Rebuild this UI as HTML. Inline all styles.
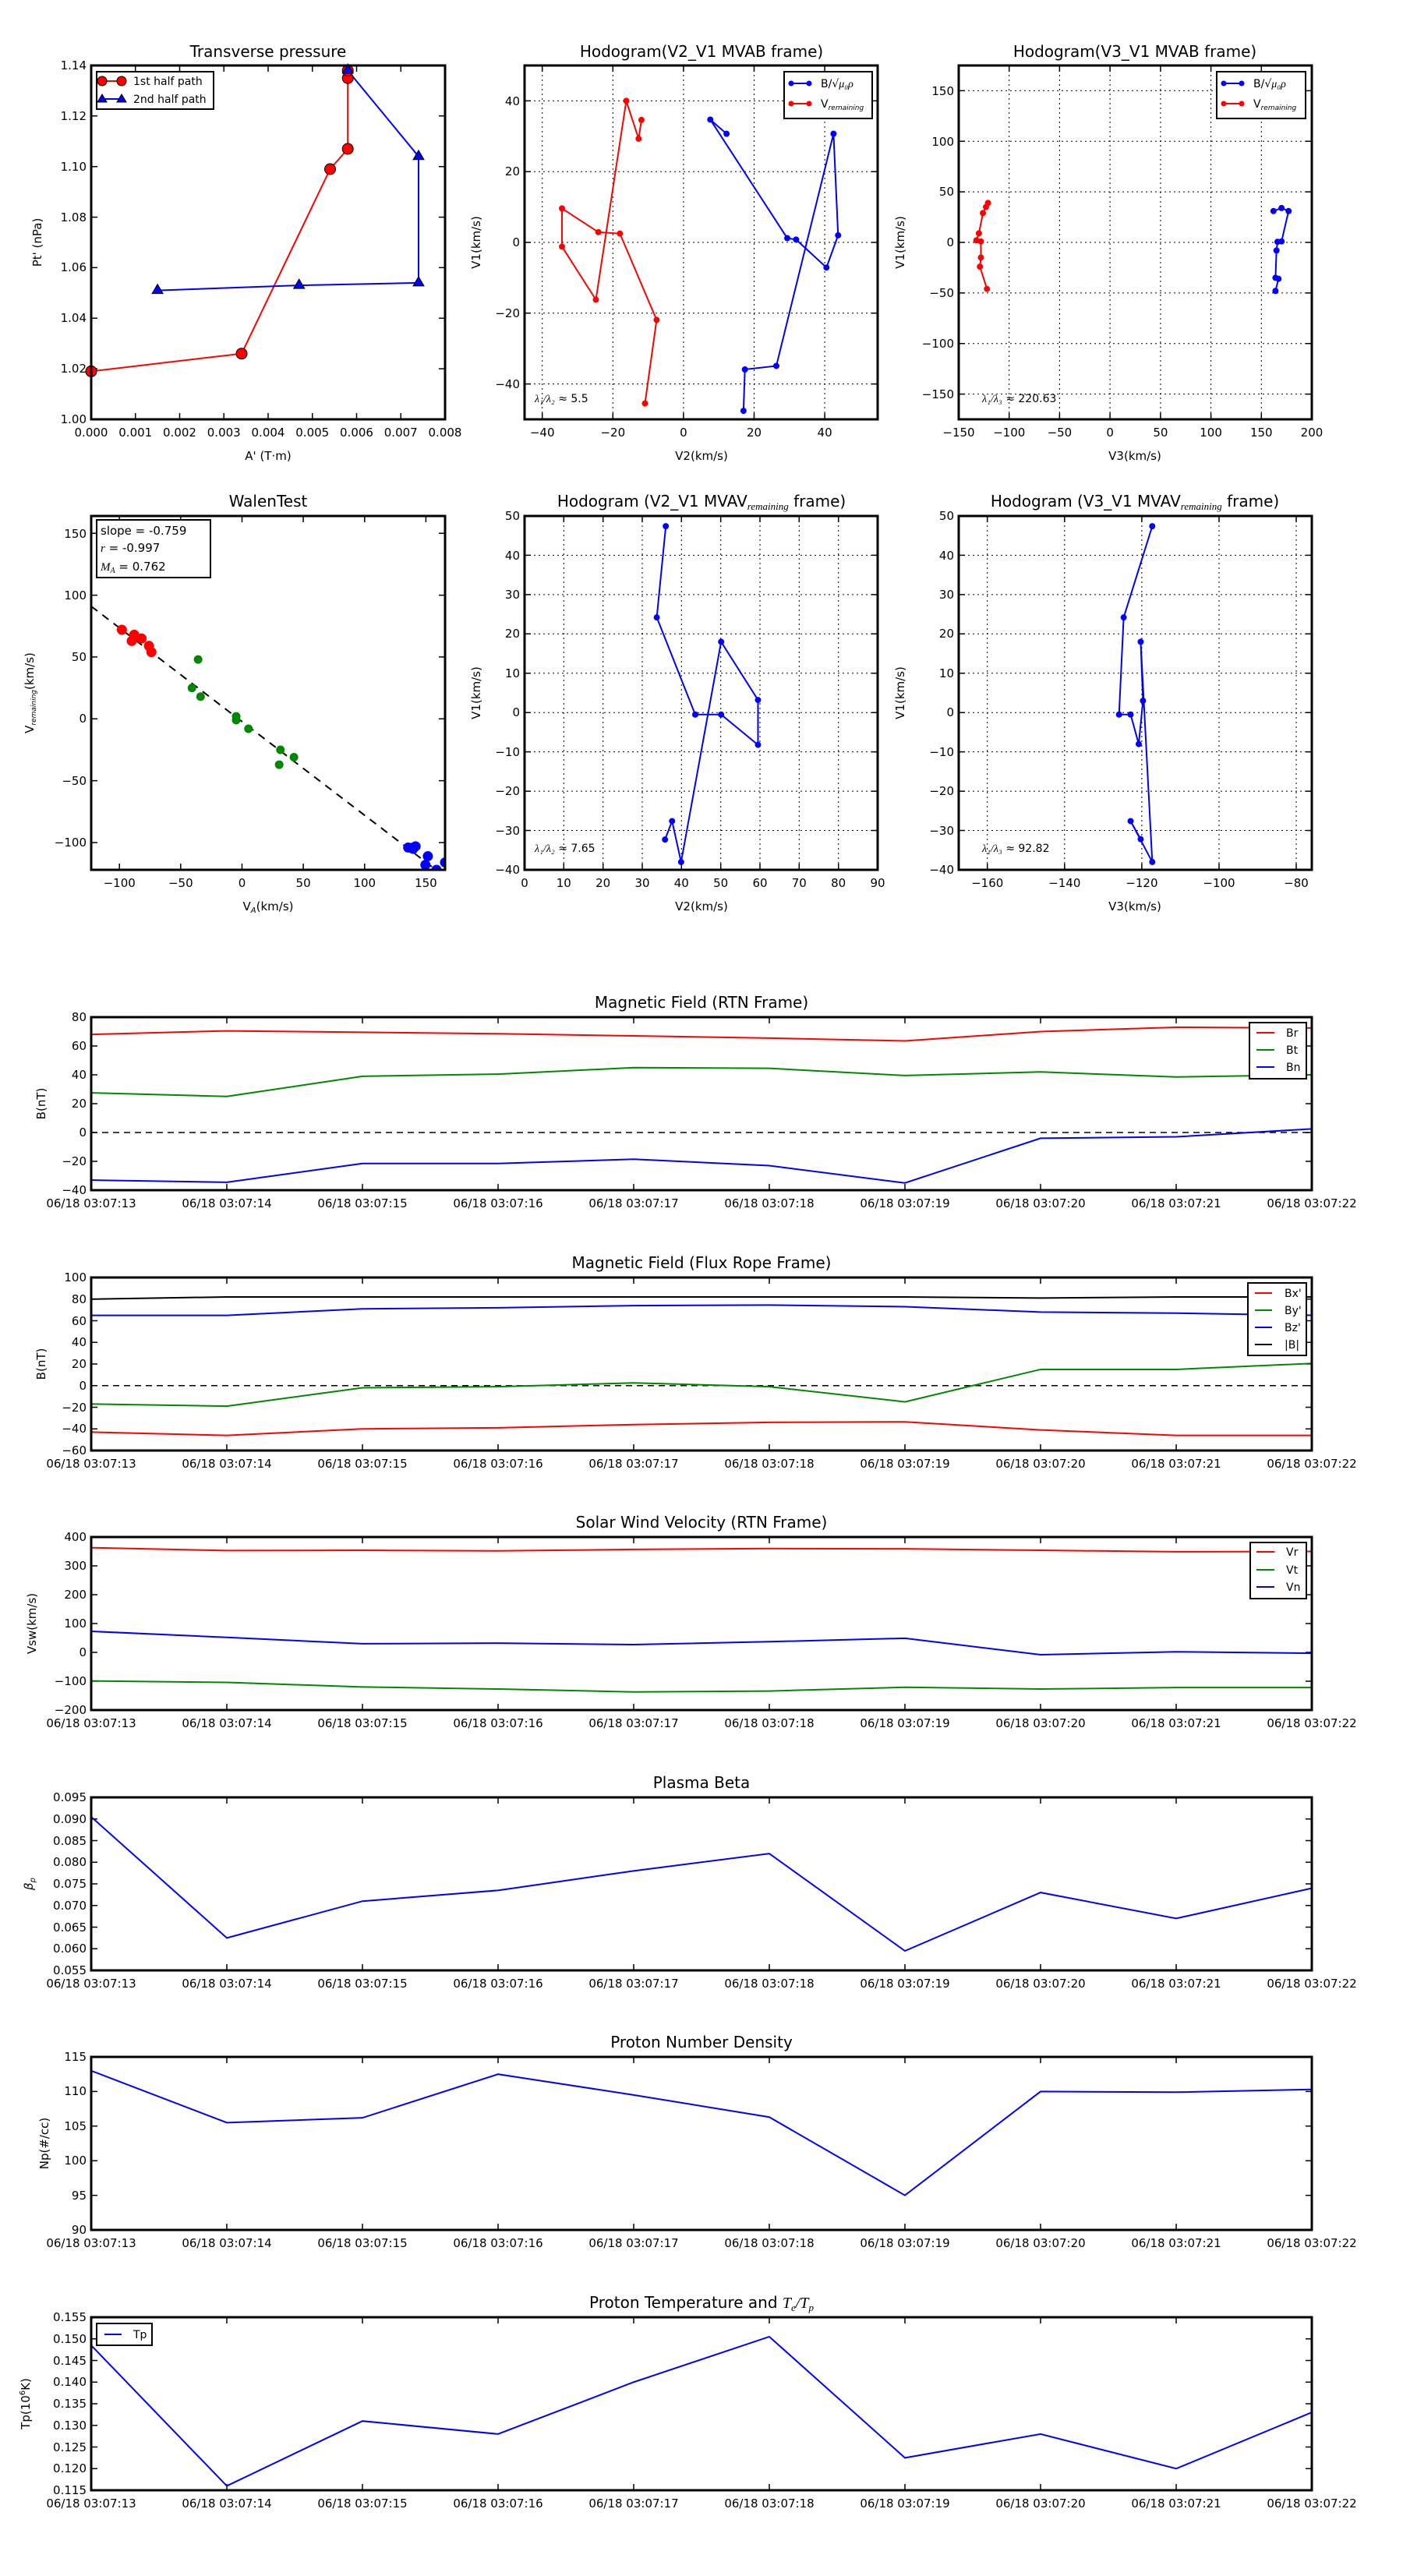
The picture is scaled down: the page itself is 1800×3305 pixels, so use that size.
<!DOCTYPE html>
<html><head><meta charset="utf-8"><style>
html,body{margin:0;padding:0;background:#fff}
svg text{font-family:"DejaVu Sans","Liberation Sans",sans-serif;fill:#000}
.t{font-size:20px;text-anchor:middle}
.k{font-size:15px}
.km{font-size:15px;text-anchor:middle}
.kr{font-size:15px;text-anchor:end}
.l{font-size:14px}
.ax{fill:none;stroke:#000;stroke-width:3}
.tk{fill:none;stroke:#000;stroke-width:1.5}
.gr{fill:none;stroke:#000;stroke-width:1;stroke-dasharray:2 4}
.ns{vector-effect:non-scaling-stroke;fill:none}
</style></head><body>
<svg width="1800" height="3300" viewBox="0 0 1800 3300" xmlns="http://www.w3.org/2000/svg">
<rect width="1800" height="3300" fill="#fff"/>

<!-- ============ Plot 1: Transverse pressure ============ -->
<text class="t" x="344" y="73">Transverse pressure</text>
<path class="tk" d="M173.75,538v-8M230.5,538v-8M287.25,538v-8M344,538v-8M400.75,538v-8M457.5,538v-8M514.25,538v-8M173.75,84v8M230.5,84v8M287.25,84v8M344,84v8M400.75,84v8M457.5,84v8M514.25,84v8M117,473.1h8M117,408.3h8M117,343.4h8M117,278.6h8M117,213.7h8M117,148.8h8M571,473.1h-8M571,408.3h-8M571,343.4h-8M571,278.6h-8M571,213.7h-8M571,148.8h-8"/>
<polyline points="117,476.4 310,453.7 423.5,217 446.2,191 446.2,100.2 446.2,90.5" fill="none" stroke="#f00" stroke-width="2"/>
<polyline points="446.2,90.5 537,200.7 537,362.9 383.7,366.1 202.1,372.6" fill="none" stroke="#00f" stroke-width="2"/>
<g fill="#f00" stroke="#000" stroke-width="1">
<circle cx="117" cy="476.4" r="7"/><circle cx="310" cy="453.7" r="7"/><circle cx="423.5" cy="217" r="7"/><circle cx="446.2" cy="191" r="7"/><circle cx="446.2" cy="100.2" r="7"/><circle cx="446.2" cy="90.5" r="7"/></g>
<g fill="#00f" stroke="#000" stroke-width="1">
<path d="M446.2,82l7,12h-14z"/><path d="M537,192.7l7,12h-14z"/><path d="M537,354.9l7,12h-14z"/><path d="M383.7,358.1l7,12h-14z"/><path d="M202.1,364.6l7,12h-14z"/></g>
<rect class="ax" x="117" y="84" width="454" height="454"/>
<rect x="124" y="92" width="150" height="48" fill="#fff" stroke="#000" stroke-width="2"/>
<line x1="129" y1="104" x2="156" y2="104" stroke="#f00" stroke-width="2"/>
<circle cx="131" cy="104" r="6" fill="#f00" stroke="#000"/><circle cx="156" cy="104" r="6" fill="#f00" stroke="#000"/>
<line x1="129" y1="127" x2="156" y2="127" stroke="#00f" stroke-width="2"/>
<path d="M131,121l6,10h-12zM156,121l6,10h-12z" fill="#00f" stroke="#000"/>
<text class="l" x="171" y="109">1st half path</text>
<text class="l" x="171" y="132">2nd half path</text>
<g class="km"><text x="117" y="560">0.000</text><text x="173.75" y="560">0.001</text><text x="230.5" y="560">0.002</text><text x="287.25" y="560">0.003</text><text x="344" y="560">0.004</text><text x="400.75" y="560">0.005</text><text x="457.5" y="560">0.006</text><text x="514.25" y="560">0.007</text><text x="571" y="560">0.008</text></g>
<g class="kr"><text x="111" y="543">1.00</text><text x="111" y="478">1.02</text><text x="111" y="413">1.04</text><text x="111" y="348">1.06</text><text x="111" y="284">1.08</text><text x="111" y="219">1.10</text><text x="111" y="154">1.12</text><text x="111" y="89">1.14</text></g>
<text class="km" x="344" y="590">A' (T·m)</text>
<text class="km" transform="translate(53,311) rotate(-90)">Pt' (nPa)</text>

<!-- ============ Plot 2: Hodogram V2_V1 MVAB ============ -->
<text class="t" x="900" y="73">Hodogram(V2_V1 MVAB frame)</text>
<path class="gr" d="M695.7,84v454M786.3,84v454M876.9,84v454M967.5,84v454M1058.1,84v454M673,129.4h453M673,220.2h453M673,311h453M673,401.8h453M673,492.6h453"/>
<path class="tk" d="M695.7,538v-8M786.3,538v-8M876.9,538v-8M967.5,538v-8M1058.1,538v-8M695.7,84v8M786.3,84v8M876.9,84v8M967.5,84v8M1058.1,84v8M673,129.4h8M673,220.2h8M673,311h8M673,401.8h8M673,492.6h8M1126,129.4h-8M1126,220.2h-8M1126,311h-8M1126,401.8h-8M1126,492.6h-8"/>
<svg x="673" y="84" width="453" height="454" viewBox="-45 -50 100 100" preserveAspectRatio="none">
<polyline class="ns" stroke="#00f" stroke-width="2" points="17.0,47.6 17.4,35.9 26.3,34.9 42.5,-30.7 43.8,-2.0 40.5,7.1 31.9,-0.8 29.4,-1.2 7.6,-34.7 12.2,-30.7"/>
<path class="ns" stroke="#00f" stroke-width="8" stroke-linecap="round" d="M17.0,47.6h0M17.4,35.9h0M26.3,34.9h0M42.5,-30.7h0M43.8,-2.0h0M40.5,7.1h0M31.9,-0.8h0M29.4,-1.2h0M7.6,-34.7h0M12.2,-30.7h0"/>
<polyline class="ns" stroke="#f00" stroke-width="2" points="-10.9,45.5 -7.6,21.9 -18.0,-2.5 -24.1,-2.9 -34.4,-9.6 -34.4,1.2 -24.8,16.2 -16.2,-40 -12.7,-29.3 -11.9,-34.6"/>
<path class="ns" stroke="#f00" stroke-width="8" stroke-linecap="round" d="M-10.9,45.5h0M-7.6,21.9h0M-18.0,-2.5h0M-24.1,-2.9h0M-34.4,-9.6h0M-34.4,1.2h0M-24.8,16.2h0M-16.2,-40h0M-12.7,-29.3h0M-11.9,-34.6h0"/>
</svg>
<rect class="ax" x="673" y="84" width="453" height="454"/>
<rect x="1006" y="92" width="113" height="60" fill="#fff" stroke="#000" stroke-width="2"/>
<line x1="1014" y1="107" x2="1039" y2="107" stroke="#00f" stroke-width="2"/><circle cx="1015" cy="107" r="3.5" fill="#00f"/><circle cx="1038" cy="107" r="3.5" fill="#00f"/>
<line x1="1014" y1="133" x2="1039" y2="133" stroke="#f00" stroke-width="2"/><circle cx="1015" cy="133" r="3.5" fill="#f00"/><circle cx="1038" cy="133" r="3.5" fill="#f00"/>
<text class="l" x="1053" y="112">B/√<tspan font-style="italic" font-family="Liberation Serif,serif">μ₀ρ</tspan></text>
<text class="l" x="1053" y="138">V<tspan font-size="9" font-style="italic" dy="3">remaining</tspan></text>
<g class="km"><text x="695.7" y="560">−40</text><text x="786.3" y="560">−20</text><text x="876.9" y="560">0</text><text x="967.5" y="560">20</text><text x="1058.1" y="560">40</text></g>
<g class="kr"><text x="667" y="135">40</text><text x="667" y="225">20</text><text x="667" y="316">0</text><text x="667" y="407">−20</text><text x="667" y="498">−40</text></g>
<text class="l" x="686" y="516"><tspan font-style="italic" font-family="Liberation Serif,serif">λ₁/λ₂</tspan> ≈ 5.5</text>
<text class="km" x="900" y="590">V2(km/s)</text>
<text class="km" transform="translate(616,311) rotate(-90)">V1(km/s)</text>

<!-- ============ Plot 3: Hodogram V3_V1 MVAB ============ -->
<text class="t" x="1456" y="73">Hodogram(V3_V1 MVAB frame)</text>
<path class="gr" d="M1294.7,84v454M1359.4,84v454M1424.1,84v454M1488.9,84v454M1553.6,84v454M1618.3,84v454M1230,116.4h453M1230,181.3h453M1230,246.1h453M1230,311h453M1230,375.9h453M1230,440.7h453M1230,505.6h453"/>
<path class="tk" d="M1294.7,538v-8M1359.4,538v-8M1424.1,538v-8M1488.9,538v-8M1553.6,538v-8M1618.3,538v-8M1294.7,84v8M1359.4,84v8M1424.1,84v8M1488.9,84v8M1553.6,84v8M1618.3,84v8M1230,116.4h8M1230,181.3h8M1230,246.1h8M1230,311h8M1230,375.9h8M1230,440.7h8M1230,505.6h8M1683,116.4h-8M1683,181.3h-8M1683,246.1h-8M1683,311h-8M1683,375.9h-8M1683,440.7h-8M1683,505.6h-8"/>
<svg x="1230" y="84" width="453" height="454" viewBox="-150 -175 350 350" preserveAspectRatio="none">
<polyline class="ns" stroke="#f00" stroke-width="2" points="-121,-39 -123,-35 -126,-29 -130,-9 -132.5,-2 -128,-1 -128,15 -129,24 -122,46"/>
<path class="ns" stroke="#f00" stroke-width="8" stroke-linecap="round" d="M-121,-39h0M-123,-35h0M-126,-29h0M-130,-9h0M-132.5,-2h0M-128,-1h0M-128,15h0M-129,24h0M-122,46h0"/>
<polyline class="ns" stroke="#00f" stroke-width="2" points="162,-31 170,-34 177,-31 170,-1 166,-0.6 165,8 164,35 167,36 164,48"/>
<path class="ns" stroke="#00f" stroke-width="8" stroke-linecap="round" d="M162,-31h0M170,-34h0M177,-31h0M170,-1h0M166,-0.6h0M165,8h0M164,35h0M167,36h0M164,48h0"/>
</svg>
<rect class="ax" x="1230" y="84" width="453" height="454"/>
<rect x="1561" y="92" width="114" height="60" fill="#fff" stroke="#000" stroke-width="2"/>
<line x1="1569" y1="107" x2="1594" y2="107" stroke="#00f" stroke-width="2"/><circle cx="1570" cy="107" r="3.5" fill="#00f"/><circle cx="1593" cy="107" r="3.5" fill="#00f"/>
<line x1="1569" y1="133" x2="1594" y2="133" stroke="#f00" stroke-width="2"/><circle cx="1570" cy="133" r="3.5" fill="#f00"/><circle cx="1593" cy="133" r="3.5" fill="#f00"/>
<text class="l" x="1608" y="112">B/√<tspan font-style="italic" font-family="Liberation Serif,serif">μ₀ρ</tspan></text>
<text class="l" x="1608" y="138">V<tspan font-size="9" font-style="italic" dy="3">remaining</tspan></text>
<g class="km"><text x="1230" y="560">−150</text><text x="1294.7" y="560">−100</text><text x="1359.4" y="560">−50</text><text x="1424.1" y="560">0</text><text x="1488.9" y="560">50</text><text x="1553.6" y="560">100</text><text x="1618.3" y="560">150</text><text x="1683" y="560">200</text></g>
<g class="kr"><text x="1224" y="122">150</text><text x="1224" y="187">100</text><text x="1224" y="251">50</text><text x="1224" y="316">0</text><text x="1224" y="381">−50</text><text x="1224" y="446">−100</text><text x="1224" y="511">−150</text></g>
<text class="l" x="1260" y="516"><tspan font-style="italic" font-family="Liberation Serif,serif">λ₁/λ₃</tspan> ≈ 220.63</text>
<text class="km" x="1456" y="590">V3(km/s)</text>
<text class="km" transform="translate(1160,311) rotate(-90)">V1(km/s)</text>

<!-- ============ Plot 4: WalenTest ============ -->
<text class="t" x="344" y="650">WalenTest</text>
<path class="tk" d="M153.2,1116v-8M231.8,1116v-8M310.5,1116v-8M389.1,1116v-8M467.8,1116v-8M546.4,1116v-8M153.2,662v8M231.8,662v8M310.5,662v8M389.1,662v8M467.8,662v8M546.4,662v8M117,684.2h8M117,763.6h8M117,842.9h8M117,922.3h8M117,1001.6h8M117,1081h8M571,684.2h-8M571,763.6h-8M571,842.9h-8M571,922.3h-8M571,1001.6h-8M571,1081h-8"/>
<svg x="117" y="662" width="454" height="454" viewBox="-123 -164 288 286" preserveAspectRatio="none">
<line class="ns" x1="-123" y1="-91" x2="165" y2="127.6" stroke="#000" stroke-width="2" stroke-dasharray="10 8"/>
<path class="ns" stroke="#f00" stroke-width="13" stroke-linecap="round" d="M-98,-72h0M-88,-68h0M-90,-63h0M-82,-65h0M-76,-59h0M-74,-54h0"/>
<path class="ns" stroke="#080" stroke-width="11" stroke-linecap="round" d="M-36,-48h0M-41,-25h0M-34,-18h0M-5,-2h0M-5,1h0M5,8h0M31,25h0M30,37h0M42,31h0"/>
<path class="ns" stroke="#00f" stroke-width="13" stroke-linecap="round" d="M135,104h0M139,104h0M141,103h0M139,105h0M151,111h0M149,118h0M158,122h0M165,116h0"/>
</svg>
<rect class="ax" x="117" y="662" width="454" height="454"/>
<rect x="124" y="667" width="146" height="74" fill="#fff" stroke="#000" stroke-width="2"/>
<text class="k" x="129" y="686">slope = -0.759</text>
<text class="k" x="129" y="708"><tspan font-style="italic" font-family="Liberation Serif,serif">r</tspan> = -0.997</text>
<text class="k" x="129" y="732"><tspan font-style="italic" font-family="Liberation Serif,serif">M<tspan font-size="10" dy="3">A</tspan></tspan><tspan dy="-3"> = 0.762</tspan></text>
<g class="km"><text x="153.2" y="1138">−100</text><text x="231.8" y="1138">−50</text><text x="310.5" y="1138">0</text><text x="389.1" y="1138">50</text><text x="467.8" y="1138">100</text><text x="546.4" y="1138">150</text></g>
<g class="kr"><text x="111" y="690">150</text><text x="111" y="769">100</text><text x="111" y="848">50</text><text x="111" y="927">0</text><text x="111" y="1007">−50</text><text x="111" y="1086">−100</text></g>
<text class="km" x="344" y="1168">V<tspan font-size="10" dy="3" font-style="italic">A</tspan><tspan dy="-3">(km/s)</tspan></text>
<text class="km" transform="translate(43,889) rotate(-90)">V<tspan font-size="9" dy="3" font-style="italic">remaining</tspan><tspan dy="-3">(km/s)</tspan></text>

<!-- ============ Plot 5: V2_V1 MVAV ============ -->
<text class="t" x="900" y="650">Hodogram (V2_V1 MVAV<tspan font-size="13" dy="4" font-style="italic" font-family="Liberation Serif,serif">remaining</tspan><tspan dy="-4"> frame)</tspan></text>
<path class="gr" d="M723.3,662v454M773.7,662v454M824,662v454M874.3,662v454M924.7,662v454M975,662v454M1025.3,662v454M1075.7,662v454M673,712.4h453M673,762.9h453M673,813.3h453M673,863.8h453M673,914.2h453M673,964.6h453M673,1015.1h453M673,1065.5h453"/>
<path class="tk" d="M723.3,1116v-8M773.7,1116v-8M824,1116v-8M874.3,1116v-8M924.7,1116v-8M975,1116v-8M1025.3,1116v-8M1075.7,1116v-8M723.3,662v8M773.7,662v8M824,662v8M874.3,662v8M924.7,662v8M975,662v8M1025.3,662v8M1075.7,662v8M673,712.4h8M673,762.9h8M673,813.3h8M673,863.8h8M673,914.2h8M673,964.6h8M673,1015.1h8M673,1065.5h8M1126,712.4h-8M1126,762.9h-8M1126,813.3h-8M1126,863.8h-8M1126,914.2h-8M1126,964.6h-8M1126,1015.1h-8M1126,1065.5h-8"/>
<svg x="673" y="662" width="453" height="454" viewBox="0 -50 90 90" preserveAspectRatio="none">
<polyline class="ns" stroke="#00f" stroke-width="2" points="36,-47.4 33.7,-24.2 43.5,0.5 50.1,0.5 59.5,8.2 59.5,-3.2 50.1,-18 39.9,38 37.6,27.6 35.8,32.3"/>
<path class="ns" stroke="#00f" stroke-width="8" stroke-linecap="round" d="M36,-47.4h0M33.7,-24.2h0M43.5,0.5h0M50.1,0.5h0M59.5,8.2h0M59.5,-3.2h0M50.1,-18h0M39.9,38h0M37.6,27.6h0M35.8,32.3h0"/>
</svg>
<rect class="ax" x="673" y="662" width="453" height="454"/>
<g class="km"><text x="673" y="1138">0</text><text x="723.3" y="1138">10</text><text x="773.7" y="1138">20</text><text x="824" y="1138">30</text><text x="874.3" y="1138">40</text><text x="924.7" y="1138">50</text><text x="975" y="1138">60</text><text x="1025.3" y="1138">70</text><text x="1075.7" y="1138">80</text><text x="1126" y="1138">90</text></g>
<g class="kr"><text x="667" y="667">50</text><text x="667" y="718">40</text><text x="667" y="768">30</text><text x="667" y="818">20</text><text x="667" y="869">10</text><text x="667" y="919">0</text><text x="667" y="970">−10</text><text x="667" y="1020">−20</text><text x="667" y="1071">−30</text><text x="667" y="1121">−40</text></g>
<text class="l" x="686" y="1093"><tspan font-style="italic" font-family="Liberation Serif,serif">λ₁/λ₂</tspan> ≈ 7.65</text>
<text class="km" x="900" y="1168">V2(km/s)</text>
<text class="km" transform="translate(616,889) rotate(-90)">V1(km/s)</text>

<!-- ============ Plot 6: V3_V1 MVAV ============ -->
<text class="t" x="1456" y="650">Hodogram (V3_V1 MVAV<tspan font-size="13" dy="4" font-style="italic" font-family="Liberation Serif,serif">remaining</tspan><tspan dy="-4"> frame)</tspan></text>
<path class="gr" d="M1266.7,662v454M1365.8,662v454M1464.9,662v454M1564,662v454M1663,662v454M1230,712.4h453M1230,762.9h453M1230,813.3h453M1230,863.8h453M1230,914.2h453M1230,964.6h453M1230,1015.1h453M1230,1065.5h453"/>
<path class="tk" d="M1266.7,1116v-8M1365.8,1116v-8M1464.9,1116v-8M1564,1116v-8M1663,1116v-8M1266.7,662v8M1365.8,662v8M1464.9,662v8M1564,662v8M1663,662v8M1230,712.4h8M1230,762.9h8M1230,813.3h8M1230,863.8h8M1230,914.2h8M1230,964.6h8M1230,1015.1h8M1230,1065.5h8M1683,712.4h-8M1683,762.9h-8M1683,813.3h-8M1683,863.8h-8M1683,914.2h-8M1683,964.6h-8M1683,1015.1h-8M1683,1065.5h-8"/>
<svg x="1230" y="662" width="453" height="454" viewBox="-167.4 -50 91.4 90" preserveAspectRatio="none">
<polyline class="ns" stroke="#00f" stroke-width="2" points="-117.3,-47.4 -124.7,-24.2 -125.9,0.5 -122.9,0.5 -120.8,8 -119.7,-3 -120.3,-18 -117.3,38 -122.9,27.6 -120.3,32.2"/>
<path class="ns" stroke="#00f" stroke-width="8" stroke-linecap="round" d="M-117.3,-47.4h0M-124.7,-24.2h0M-125.9,0.5h0M-122.9,0.5h0M-120.8,8h0M-119.7,-3h0M-120.3,-18h0M-117.3,38h0M-122.9,27.6h0M-120.3,32.2h0"/>
</svg>
<rect class="ax" x="1230" y="662" width="453" height="454"/>
<g class="km"><text x="1266.7" y="1138">−160</text><text x="1365.8" y="1138">−140</text><text x="1464.9" y="1138">−120</text><text x="1564" y="1138">−100</text><text x="1663" y="1138">−80</text></g>
<g class="kr"><text x="1224" y="667">50</text><text x="1224" y="718">40</text><text x="1224" y="768">30</text><text x="1224" y="818">20</text><text x="1224" y="869">10</text><text x="1224" y="919">0</text><text x="1224" y="970">−10</text><text x="1224" y="1020">−20</text><text x="1224" y="1071">−30</text><text x="1224" y="1121">−40</text></g>
<text class="l" x="1260" y="1093"><tspan font-style="italic" font-family="Liberation Serif,serif">λ₁/λ₃</tspan> ≈ 92.82</text>
<text class="km" x="1456" y="1168">V3(km/s)</text>
<text class="km" transform="translate(1160,889) rotate(-90)">V1(km/s)</text>

<!-- ============ Time series panels ============ -->
<!-- P1 -->
<text class="t" x="900" y="1293">Magnetic Field (RTN Frame)</text>
<path class="tk" d="M291,1527v-8M465,1527v-8M639,1527v-8M813,1527v-8M987,1527v-8M1161,1527v-8M1335,1527v-8M1509,1527v-8M291,1305v8M465,1305v8M639,1305v8M813,1305v8M987,1305v8M1161,1305v8M1335,1305v8M1509,1305v8M117,1342h8M117,1379h8M117,1416h8M117,1453h8M117,1490h8M1683,1342h-8M1683,1379h-8M1683,1416h-8M1683,1453h-8M1683,1490h-8"/>
<line x1="117" y1="1453" x2="1683" y2="1453" stroke="#000" stroke-width="1.5" stroke-dasharray="8 6"/>
<svg x="117" y="1305" width="1566" height="222" viewBox="0 -80 9 120" preserveAspectRatio="none">
<polyline class="ns" stroke="#f00" stroke-width="2" points="0,-68 1,-70.5 2,-69.5 3,-68.5 4,-67 5,-65.5 6,-63.5 7,-70 8,-73 9,-72.5"/>
<polyline class="ns" stroke="#080" stroke-width="2" points="0,-27.5 1,-25 2,-39 3,-40.5 4,-45 5,-44.5 6,-39.5 7,-42 8,-38.5 9,-40"/>
<polyline class="ns" stroke="#00f" stroke-width="2" points="0,33 1,34.5 2,21.5 3,21.5 4,18.5 5,23 6,35 7,4 8,3 9,-2.5"/>
</svg>
<rect class="ax" x="117" y="1305" width="1566" height="222"/>
<rect x="1603" y="1312" width="73" height="72" fill="#fff" stroke="#000" stroke-width="2"/>
<line x1="1612" y1="1325" x2="1635" y2="1325" stroke="#f00" stroke-width="2"/><line x1="1612" y1="1347" x2="1635" y2="1347" stroke="#080" stroke-width="2"/><line x1="1612" y1="1369" x2="1635" y2="1369" stroke="#00f" stroke-width="2"/>
<text class="l" x="1650" y="1330">Br</text><text class="l" x="1650" y="1352">Bt</text><text class="l" x="1650" y="1374">Bn</text>
<g class="kr"><text x="111" y="1310">80</text><text x="111" y="1347">60</text><text x="111" y="1384">40</text><text x="111" y="1421">20</text><text x="111" y="1458">0</text><text x="111" y="1495">−20</text><text x="111" y="1532">−40</text></g>
<g class="km"><text x="117" y="1549">06/18 03:07:13</text><text x="291" y="1549">06/18 03:07:14</text><text x="465" y="1549">06/18 03:07:15</text><text x="639" y="1549">06/18 03:07:16</text><text x="813" y="1549">06/18 03:07:17</text><text x="987" y="1549">06/18 03:07:18</text><text x="1161" y="1549">06/18 03:07:19</text><text x="1335" y="1549">06/18 03:07:20</text><text x="1509" y="1549">06/18 03:07:21</text><text x="1683" y="1549">06/18 03:07:22</text></g>
<text class="km" transform="translate(58,1416) rotate(-90)">B(nT)</text>

<!-- P2 -->
<text class="t" x="900" y="1627">Magnetic Field (Flux Rope Frame)</text>
<path class="tk" d="M291,1861v-8M465,1861v-8M639,1861v-8M813,1861v-8M987,1861v-8M1161,1861v-8M1335,1861v-8M1509,1861v-8M291,1639v8M465,1639v8M639,1639v8M813,1639v8M987,1639v8M1161,1639v8M1335,1639v8M1509,1639v8M117,1666.75h8M117,1694.5h8M117,1722.25h8M117,1750h8M117,1777.75h8M117,1805.5h8M117,1833.25h8M1683,1666.75h-8M1683,1694.5h-8M1683,1722.25h-8M1683,1750h-8M1683,1777.75h-8M1683,1805.5h-8M1683,1833.25h-8"/>
<line x1="117" y1="1777.75" x2="1683" y2="1777.75" stroke="#000" stroke-width="1.5" stroke-dasharray="8 6"/>
<svg x="117" y="1639" width="1566" height="222" viewBox="0 -100 9 160" preserveAspectRatio="none">
<polyline class="ns" stroke="#000" stroke-width="2" points="0,-80 1,-82 2,-82 3,-82 4,-82 5,-82 6,-82 7,-81 8,-82 9,-82"/>
<polyline class="ns" stroke="#00f" stroke-width="2" points="0,-65 1,-65 2,-71 3,-72 4,-74 5,-74.5 6,-73 7,-68 8,-67 9,-65"/>
<polyline class="ns" stroke="#080" stroke-width="2" points="0,17 1,19 2,2 3,1 4,-2.5 5,1 6,15 7,-15 8,-15 9,-20.5"/>
<polyline class="ns" stroke="#f00" stroke-width="2" points="0,43 1,46 2,40 3,39 4,36 5,34 6,33.5 7,41 8,46 9,46"/>
</svg>
<rect class="ax" x="117" y="1639" width="1566" height="222"/>
<rect x="1601" y="1646" width="75" height="93" fill="#fff" stroke="#000" stroke-width="2"/>
<line x1="1610" y1="1659" x2="1632" y2="1659" stroke="#f00" stroke-width="2"/><line x1="1610" y1="1681" x2="1632" y2="1681" stroke="#080" stroke-width="2"/><line x1="1610" y1="1703" x2="1632" y2="1703" stroke="#00f" stroke-width="2"/><line x1="1610" y1="1725" x2="1632" y2="1725" stroke="#000" stroke-width="2"/>
<text class="l" x="1648" y="1664">Bx'</text><text class="l" x="1648" y="1686">By'</text><text class="l" x="1648" y="1708">Bz'</text><text class="l" x="1648" y="1730">|B|</text>
<g class="kr"><text x="111" y="1644">100</text><text x="111" y="1672">80</text><text x="111" y="1700">60</text><text x="111" y="1727">40</text><text x="111" y="1755">20</text><text x="111" y="1783">0</text><text x="111" y="1811">−20</text><text x="111" y="1838">−40</text><text x="111" y="1866">−60</text></g>
<g class="km"><text x="117" y="1883">06/18 03:07:13</text><text x="291" y="1883">06/18 03:07:14</text><text x="465" y="1883">06/18 03:07:15</text><text x="639" y="1883">06/18 03:07:16</text><text x="813" y="1883">06/18 03:07:17</text><text x="987" y="1883">06/18 03:07:18</text><text x="1161" y="1883">06/18 03:07:19</text><text x="1335" y="1883">06/18 03:07:20</text><text x="1509" y="1883">06/18 03:07:21</text><text x="1683" y="1883">06/18 03:07:22</text></g>
<text class="km" transform="translate(58,1750) rotate(-90)">B(nT)</text>

<!-- P3 -->
<text class="t" x="900" y="1960">Solar Wind Velocity (RTN Frame)</text>
<path class="tk" d="M291,2194v-8M465,2194v-8M639,2194v-8M813,2194v-8M987,2194v-8M1161,2194v-8M1335,2194v-8M1509,2194v-8M291,1972v8M465,1972v8M639,1972v8M813,1972v8M987,1972v8M1161,1972v8M1335,1972v8M1509,1972v8M117,2009h8M117,2046h8M117,2083h8M117,2120h8M117,2157h8M1683,2009h-8M1683,2046h-8M1683,2083h-8M1683,2120h-8M1683,2157h-8"/>
<svg x="117" y="1972" width="1566" height="222" viewBox="0 -400 9 600" preserveAspectRatio="none">
<polyline class="ns" stroke="#f00" stroke-width="2" points="0,-363 1,-353 2,-354 3,-352 4,-357 5,-360 6,-359 7,-354 8,-349 9,-350"/>
<polyline class="ns" stroke="#00f" stroke-width="2" points="0,-73 1,-52 2,-30 3,-32 4,-27 5,-37 6,-49 7,8 8,-2 9,3"/>
<polyline class="ns" stroke="#080" stroke-width="2" points="0,99 1,104 2,120 3,127 4,137 5,134 6,121 7,127 8,122 9,122"/>
</svg>
<rect class="ax" x="117" y="1972" width="1566" height="222"/>
<rect x="1604" y="1979" width="72" height="72" fill="#fff" stroke="#000" stroke-width="2"/>
<line x1="1612" y1="1991" x2="1635" y2="1991" stroke="#f00" stroke-width="2"/><line x1="1612" y1="2014" x2="1635" y2="2014" stroke="#080" stroke-width="2"/><line x1="1612" y1="2036" x2="1635" y2="2036" stroke="#00f" stroke-width="2"/>
<text class="l" x="1650" y="1996">Vr</text><text class="l" x="1650" y="2019">Vt</text><text class="l" x="1650" y="2041">Vn</text>
<g class="kr"><text x="111" y="1977">400</text><text x="111" y="2014">300</text><text x="111" y="2051">200</text><text x="111" y="2088">100</text><text x="111" y="2125">0</text><text x="111" y="2162">−100</text><text x="111" y="2199">−200</text></g>
<g class="km"><text x="117" y="2216">06/18 03:07:13</text><text x="291" y="2216">06/18 03:07:14</text><text x="465" y="2216">06/18 03:07:15</text><text x="639" y="2216">06/18 03:07:16</text><text x="813" y="2216">06/18 03:07:17</text><text x="987" y="2216">06/18 03:07:18</text><text x="1161" y="2216">06/18 03:07:19</text><text x="1335" y="2216">06/18 03:07:20</text><text x="1509" y="2216">06/18 03:07:21</text><text x="1683" y="2216">06/18 03:07:22</text></g>
<text class="km" transform="translate(46,2083) rotate(-90)">Vsw(km/s)</text>

<!-- P4 -->
<text class="t" x="900" y="2294">Plasma Beta</text>
<path class="tk" d="M291,2528v-8M465,2528v-8M639,2528v-8M813,2528v-8M987,2528v-8M1161,2528v-8M1335,2528v-8M1509,2528v-8M291,2306v8M465,2306v8M639,2306v8M813,2306v8M987,2306v8M1161,2306v8M1335,2306v8M1509,2306v8M117,2333.75h8M117,2361.5h8M117,2389.25h8M117,2417h8M117,2444.75h8M117,2472.5h8M117,2500.25h8M1683,2333.75h-8M1683,2361.5h-8M1683,2389.25h-8M1683,2417h-8M1683,2444.75h-8M1683,2472.5h-8M1683,2500.25h-8"/>
<svg x="117" y="2306" width="1566" height="222" viewBox="0 -0.095 9 0.04" preserveAspectRatio="none">
<polyline class="ns" stroke="#00f" stroke-width="2" points="0,-0.0905 1,-0.0625 2,-0.071 3,-0.0735 4,-0.078 5,-0.082 6,-0.0595 7,-0.073 8,-0.067 9,-0.074"/>
</svg>
<rect class="ax" x="117" y="2306" width="1566" height="222"/>
<g class="kr"><text x="111" y="2311">0.095</text><text x="111" y="2339">0.090</text><text x="111" y="2367">0.085</text><text x="111" y="2394">0.080</text><text x="111" y="2422">0.075</text><text x="111" y="2450">0.070</text><text x="111" y="2478">0.065</text><text x="111" y="2505">0.060</text><text x="111" y="2533">0.055</text></g>
<g class="km"><text x="117" y="2550">06/18 03:07:13</text><text x="291" y="2550">06/18 03:07:14</text><text x="465" y="2550">06/18 03:07:15</text><text x="639" y="2550">06/18 03:07:16</text><text x="813" y="2550">06/18 03:07:17</text><text x="987" y="2550">06/18 03:07:18</text><text x="1161" y="2550">06/18 03:07:19</text><text x="1335" y="2550">06/18 03:07:20</text><text x="1509" y="2550">06/18 03:07:21</text><text x="1683" y="2550">06/18 03:07:22</text></g>
<text class="km" transform="translate(42,2417) rotate(-90)" font-style="italic" font-family="Liberation Serif,serif">β<tspan font-size="10" dy="3">p</tspan></text>

<!-- P5 -->
<text class="t" x="900" y="2627">Proton Number Density</text>
<path class="tk" d="M291,2861v-8M465,2861v-8M639,2861v-8M813,2861v-8M987,2861v-8M1161,2861v-8M1335,2861v-8M1509,2861v-8M291,2639v8M465,2639v8M639,2639v8M813,2639v8M987,2639v8M1161,2639v8M1335,2639v8M1509,2639v8M117,2683.4h8M117,2727.8h8M117,2772.2h8M117,2816.6h8M1683,2683.4h-8M1683,2727.8h-8M1683,2772.2h-8M1683,2816.6h-8"/>
<svg x="117" y="2639" width="1566" height="222" viewBox="0 -115 9 25" preserveAspectRatio="none">
<polyline class="ns" stroke="#00f" stroke-width="2" points="0,-113 1,-105.5 2,-106.2 3,-112.5 4,-109.5 5,-106.3 6,-95 7,-110 8,-109.9 9,-110.3"/>
</svg>
<rect class="ax" x="117" y="2639" width="1566" height="222"/>
<g class="kr"><text x="111" y="2644">115</text><text x="111" y="2688">110</text><text x="111" y="2733">105</text><text x="111" y="2777">100</text><text x="111" y="2822">95</text><text x="111" y="2866">90</text></g>
<g class="km"><text x="117" y="2883">06/18 03:07:13</text><text x="291" y="2883">06/18 03:07:14</text><text x="465" y="2883">06/18 03:07:15</text><text x="639" y="2883">06/18 03:07:16</text><text x="813" y="2883">06/18 03:07:17</text><text x="987" y="2883">06/18 03:07:18</text><text x="1161" y="2883">06/18 03:07:19</text><text x="1335" y="2883">06/18 03:07:20</text><text x="1509" y="2883">06/18 03:07:21</text><text x="1683" y="2883">06/18 03:07:22</text></g>
<text class="km" transform="translate(62,2750) rotate(-90)">Np(#/cc)</text>

<!-- P6 -->
<text class="t" x="900" y="2961">Proton Temperature and <tspan font-style="italic" font-family="Liberation Serif,serif">T<tspan font-size="13" dy="4">e</tspan><tspan dy="-4">/T</tspan><tspan font-size="13" dy="4">p</tspan></tspan></text>
<path class="tk" d="M291,3195v-8M465,3195v-8M639,3195v-8M813,3195v-8M987,3195v-8M1161,3195v-8M1335,3195v-8M1509,3195v-8M291,2973v8M465,2973v8M639,2973v8M813,2973v8M987,2973v8M1161,2973v8M1335,2973v8M1509,2973v8M117,3000.75h8M117,3028.5h8M117,3056.25h8M117,3084h8M117,3111.75h8M117,3139.5h8M117,3167.25h8M1683,3000.75h-8M1683,3028.5h-8M1683,3056.25h-8M1683,3084h-8M1683,3111.75h-8M1683,3139.5h-8M1683,3167.25h-8"/>
<svg x="117" y="2973" width="1566" height="222" viewBox="0 -0.155 9 0.04" preserveAspectRatio="none">
<polyline class="ns" stroke="#00f" stroke-width="2" points="0,-0.1485 1,-0.116 2,-0.131 3,-0.128 4,-0.140 5,-0.1505 6,-0.1225 7,-0.128 8,-0.120 9,-0.133"/>
</svg>
<rect class="ax" x="117" y="2973" width="1566" height="222"/>
<rect x="124" y="2981" width="71" height="28" fill="#fff" stroke="#000" stroke-width="2"/>
<line x1="134" y1="2995" x2="156" y2="2995" stroke="#00f" stroke-width="2"/>
<text class="l" x="171" y="3000">Tp</text>
<g class="kr"><text x="111" y="2978">0.155</text><text x="111" y="3006">0.150</text><text x="111" y="3034">0.145</text><text x="111" y="3061">0.140</text><text x="111" y="3089">0.135</text><text x="111" y="3117">0.130</text><text x="111" y="3145">0.125</text><text x="111" y="3172">0.120</text><text x="111" y="3200">0.115</text></g>
<g class="km"><text x="117" y="3217">06/18 03:07:13</text><text x="291" y="3217">06/18 03:07:14</text><text x="465" y="3217">06/18 03:07:15</text><text x="639" y="3217">06/18 03:07:16</text><text x="813" y="3217">06/18 03:07:17</text><text x="987" y="3217">06/18 03:07:18</text><text x="1161" y="3217">06/18 03:07:19</text><text x="1335" y="3217">06/18 03:07:20</text><text x="1509" y="3217">06/18 03:07:21</text><text x="1683" y="3217">06/18 03:07:22</text></g>
<text class="km" transform="translate(38,3084) rotate(-90)">Tp(10<tspan font-size="10" dy="-6">6</tspan><tspan dy="6">K)</tspan></text>
</svg>
</body></html>
